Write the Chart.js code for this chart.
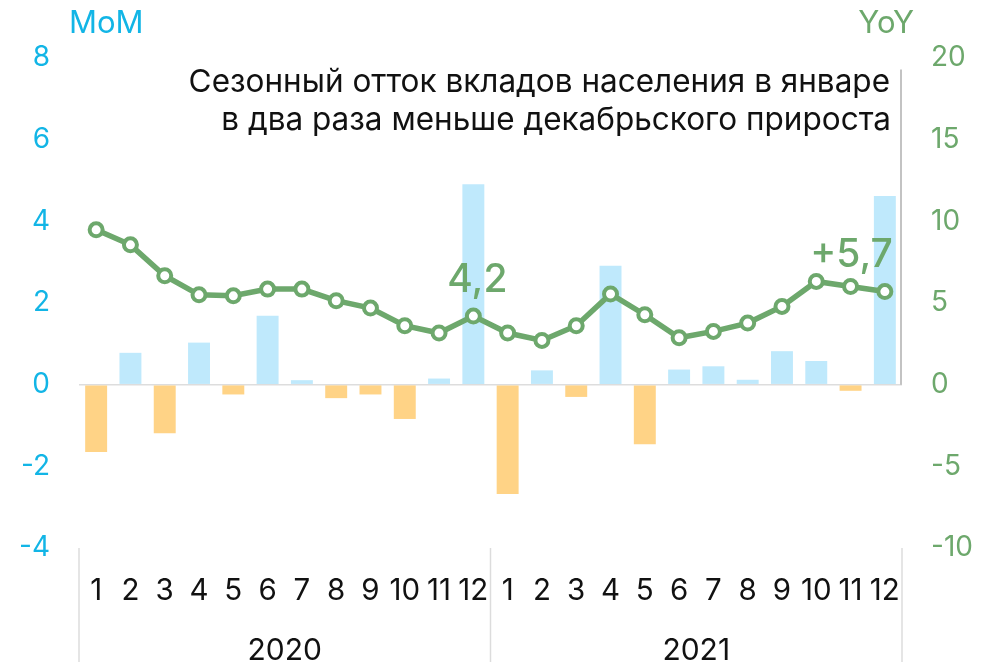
<!DOCTYPE html>
<html>
<head>
<meta charset="utf-8">
<script src="https://cdn.jsdelivr.net/npm/chart.js@4/dist/chart.umd.min.js"></script>
<style>
  html, body { margin: 0; padding: 0; background: #ffffff; }
  #wrap { width: 991px; height: 662px; }
</style>
</head>
<body>
<div id="wrap"><canvas id="c" width="991" height="662"></canvas></div>
<script>
// Months of 2020 and 2021
const months = ['1','2','3','4','5','6','7','8','9','10','11','12',
                '1','2','3','4','5','6','7','8','9','10','11','12'];
const years = ['2020', '2021'];

// Month-on-month change of household deposits, %
const momValues = [-1.65, 0.78, -1.19, 1.03, -0.24, 1.69, 0.11, -0.33, -0.24, -0.84, 0.15, 4.91,
                   -2.68, 0.35, -0.30, 2.91, -1.46, 0.37, 0.45, 0.12, 0.82, 0.58, -0.15, 4.62];

// Year-on-year growth, %
const yoyValues = [9.48, 8.56, 6.67, 5.50, 5.44, 5.85, 5.85, 5.14, 4.69, 3.61, 3.16, 4.2,
                   3.16, 2.71, 3.61, 5.55, 4.28, 2.87, 3.26, 3.77, 4.79, 6.32, 6.01, 5.7];

// Points whose values are written next to them
const labelledPoints = [11, 23];

const titleLines = ['Сезонный отток вкладов населения в январе',
                    'в два раза меньше декабрьского прироста'];

const FONT = 'Inter, "Noto Sans", sans-serif';
const CYAN = '#12B5E6';
const GREEN = '#6DA86C';
const BAR_POS = '#BFE9FC';
const BAR_NEG = '#FFD386';

const fmt = v => v.toFixed(1).replace('.', ',');

const decorations = {
  id: 'decorations',
  afterDatasetsDraw(chart) {
    const ctx = chart.ctx;
    const area = chart.chartArea;
    const x = chart.scales.x;
    const y2 = chart.scales.y2;
    ctx.save();

    // category separators below the plot
    ctx.strokeStyle = '#DCDCDC';
    ctx.lineWidth = 1.5;
    const mid = (x.getPixelForValue(11) + x.getPixelForValue(12)) / 2;
    [area.left, mid, area.right].forEach(px => {
      ctx.beginPath();
      ctx.moveTo(px, area.bottom);
      ctx.lineTo(px, chart.height);
      ctx.stroke();
    });

    // right-hand frame line
    ctx.strokeStyle = '#BDBDBD';
    ctx.lineWidth = 1.8;
    ctx.beginPath();
    ctx.moveTo(area.right - 1, y2.getPixelForValue(19.3));
    ctx.lineTo(area.right - 1, y2.getPixelForValue(0));
    ctx.stroke();

    // axis captions
    ctx.font = '400 31px ' + FONT;
    ctx.textBaseline = 'alphabetic';
    ctx.fillStyle = CYAN;
    ctx.textAlign = 'left';
    ctx.fillText('MoM', 69, 33);
    ctx.fillStyle = GREEN;
    ctx.textAlign = 'right';
    ctx.fillText('YoY', 914, 33);

    // title
    ctx.fillStyle = '#111111';
    ctx.font = '400 31.5px ' + FONT;
    ctx.textAlign = 'right';
    ctx.fillText(titleLines[0], 890, 92);
    ctx.fillText(titleLines[1], 891, 130);

    // value labels on the line
    const meta = chart.getDatasetMeta(1);
    ctx.fillStyle = GREEN;
    ctx.font = '500 39px ' + FONT;
    labelledPoints.forEach((i, k) => {
      const pt = meta.data[i];
      const txt = (k === labelledPoints.length - 1 ? '+' : '') + fmt(yoyValues[i]);
      if (k === labelledPoints.length - 1) {
        ctx.textAlign = 'right';
        ctx.fillText(txt, pt.x + 8, pt.y - 25);
      } else {
        ctx.textAlign = 'center';
        ctx.fillText(txt, pt.x + 4, pt.y - 24);
      }
    });
    ctx.restore();
  }
};

new Chart(document.getElementById('c'), {
  data: {
    labels: months,
    datasets: [
      {
        type: 'bar',
        label: 'MoM',
        data: momValues,
        yAxisID: 'y',
        xAxisID: 'x',
        backgroundColor: momValues.map(v => v >= 0 ? BAR_POS : BAR_NEG),
        borderWidth: 0,
        categoryPercentage: 1,
        barPercentage: 0.64,
        order: 2
      },
      {
        type: 'line',
        label: 'YoY',
        data: yoyValues,
        yAxisID: 'y2',
        xAxisID: 'x',
        borderColor: GREEN,
        borderWidth: 5.5,
        pointRadius: 6.5,
        pointBorderWidth: 4,
        pointBackgroundColor: '#ffffff',
        pointBorderColor: GREEN,
        tension: 0,
        order: 1
      }
    ]
  },
  options: {
    responsive: false,
    animation: false,
    devicePixelRatio: 1,
    layout: { padding: { top: 58, left: 0, right: 0, bottom: 0 } },
    plugins: { legend: { display: false }, tooltip: { enabled: false }, title: { display: false } },
    scales: {
      x: {
        type: 'category',
        position: 'bottom',
        offset: true,
        grid: { display: false, drawTicks: false },
        border: { display: false },
        ticks: { color: '#111111', font: { family: FONT, size: 29.5 }, padding: 25, maxRotation: 0, autoSkip: false },
        afterFit(s) { s.height = 70; }
      },
      x2: {
        type: 'category',
        labels: years,
        position: 'bottom',
        offset: true,
        grid: { display: false, drawTicks: false },
        border: { display: false },
        ticks: { color: '#111111', font: { family: FONT, size: 30 }, padding: 15, maxRotation: 0, autoSkip: false },
        afterFit(s) { s.height = 44; }
      },
      y: {
        position: 'left',
        min: -4,
        max: 8,
        ticks: { stepSize: 2, color: CYAN, font: { family: FONT, size: 28 }, padding: 29 },
        grid: {
          drawTicks: false,
          color: c => (c.tick && c.tick.value === 0) ? '#DDDDDD' : 'rgba(0,0,0,0)',
          lineWidth: 1.5
        },
        border: { display: false },
        afterFit(s) { s.width = 79; }
      },
      y2: {
        position: 'right',
        min: -10,
        max: 20,
        ticks: { stepSize: 5, color: GREEN, font: { family: FONT, size: 28 }, padding: 29 },
        grid: { display: false, drawTicks: false },
        border: { display: false },
        afterFit(s) { s.width = 89; }
      }
    }
  },
  plugins: [decorations]
});
</script>
</body>
</html>
